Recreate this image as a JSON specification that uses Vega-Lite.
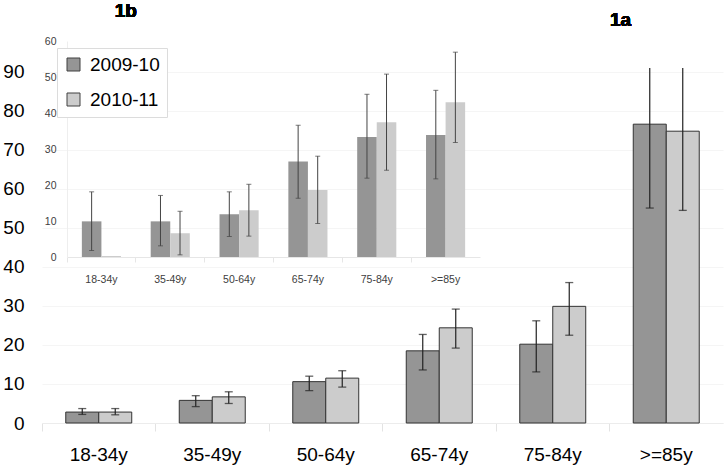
{
  "$schema": "https://vega.github.io/schema/vega-lite/v6.json",
  "width": 681,
  "height": 355,
  "autosize": {"type": "none"},
  "padding": {"left": 42, "top": 68, "right": 4, "bottom": 49},
  "background": "white",
  "config": {
    "view": {"stroke": null},
    "font": "Liberation Sans"
  },
  "datasets": {
    "main": [
      {"age": "18-34y", "period": "2009-10", "value": 2.8, "lo": 2.2, "hi": 3.7},
      {"age": "18-34y", "period": "2010-11", "value": 2.8, "lo": 2.1, "hi": 3.7},
      {"age": "35-49y", "period": "2009-10", "value": 5.8, "lo": 4.2, "hi": 7.0},
      {"age": "35-49y", "period": "2010-11", "value": 6.7, "lo": 5.0, "hi": 8.0},
      {"age": "50-64y", "period": "2009-10", "value": 10.6, "lo": 8.3, "hi": 12.0},
      {"age": "50-64y", "period": "2010-11", "value": 11.5, "lo": 9.2, "hi": 13.4},
      {"age": "65-74y", "period": "2009-10", "value": 18.5, "lo": 13.6, "hi": 22.7},
      {"age": "65-74y", "period": "2010-11", "value": 24.4, "lo": 19.2, "hi": 29.2},
      {"age": "75-84y", "period": "2009-10", "value": 20.2, "lo": 13.1, "hi": 26.2},
      {"age": "75-84y", "period": "2010-11", "value": 29.9, "lo": 22.5, "hi": 36.0},
      {"age": ">=85y", "period": "2009-10", "value": 76.6, "lo": 55.1, "hi": 95},
      {"age": ">=85y", "period": "2010-11", "value": 74.8, "lo": 54.5, "hi": 95}
    ],
    "inset": [
      {"age": "18-34y", "period": "2009-10", "value": 9.9, "lo": 1.8, "hi": 18.1},
      {"age": "18-34y", "period": "2010-11", "value": 0.3, "lo": null, "hi": null},
      {"age": "35-49y", "period": "2009-10", "value": 9.9, "lo": 3.1, "hi": 17.1},
      {"age": "35-49y", "period": "2010-11", "value": 6.6, "lo": 0.6, "hi": 12.7},
      {"age": "50-64y", "period": "2009-10", "value": 11.9, "lo": 5.7, "hi": 18.1},
      {"age": "50-64y", "period": "2010-11", "value": 13.0, "lo": 5.8, "hi": 20.2},
      {"age": "65-74y", "period": "2009-10", "value": 26.5, "lo": 16.3, "hi": 36.6},
      {"age": "65-74y", "period": "2010-11", "value": 18.6, "lo": 9.3, "hi": 28.0},
      {"age": "75-84y", "period": "2009-10", "value": 33.3, "lo": 21.9, "hi": 45.2},
      {"age": "75-84y", "period": "2010-11", "value": 37.4, "lo": 24.1, "hi": 50.8},
      {"age": ">=85y", "period": "2009-10", "value": 33.9, "lo": 21.7, "hi": 46.3},
      {"age": ">=85y", "period": "2010-11", "value": 43.0, "lo": 31.8, "hi": 56.9}
    ]
  },
  "layer": [
    {
      "data": {"name": "main"},
      "encoding": {
        "x": {
          "field": "age", "type": "nominal",
          "sort": ["18-34y", "35-49y", "50-64y", "65-74y", "75-84y", ">=85y"],
          "scale": {"paddingInner": 0, "paddingOuter": 0},
          "axis": {
            "title": null, "orient": "bottom", "labelAngle": 0,
            "labelFontSize": 19, "labelColor": "#000000", "labelPadding": 14,
            "bandPosition": 0,
            "ticks": true, "tickSize": 8, "tickColor": "#e3e3e3",
            "domainColor": "#ececec", "grid": false
          }
        },
        "xOffset": {
          "field": "period", "type": "nominal",
          "scale": {"paddingInner": 0, "paddingOuter": 0.72}
        }
      },
      "layer": [
        {
          "mark": {"type": "bar", "stroke": "#333333", "strokeWidth": 1},
          "encoding": {
            "y": {
              "field": "value", "type": "quantitative",
              "scale": {"domain": [0, 91], "nice": false},
              "axis": {
                "title": null, "orient": "left",
                "values": [0, 10, 20, 30, 40, 50, 60, 70, 80, 90],
                "labelOverlap": false,
                "labelFontSize": 19, "labelColor": "#000000", "labelPadding": 18,
                "ticks": false, "domain": false,
                "grid": true, "gridColor": "#f5f5f5"
              }
            },
            "color": {
              "field": "period", "type": "nominal",
              "scale": {"domain": ["2009-10", "2010-11"], "range": ["#959595", "#cccccc"]},
              "legend": {
                "title": null, "orient": "none", "legendX": 15, "legendY": -20,
                "symbolType": "square", "symbolSize": 169,
                "symbolStrokeColor": "#404040", "symbolStrokeWidth": 1,
                "symbolOpacity": 1,
                "labelFontSize": 19, "labelColor": "#000000", "labelFont": "Liberation Sans",
                "labelOffset": 7, "rowPadding": 15,
                "padding": 7, "strokeColor": "#dcdcdc", "fillColor": "#ffffff"
              }
            }
          }
        },
        {
          "mark": {"type": "rule", "color": "#222222", "strokeWidth": 1.2, "clip": true},
          "encoding": {
            "y": {"field": "lo", "type": "quantitative",
              "axis": {
                "title": null, "orient": "left",
                "values": [0, 10, 20, 30, 40, 50, 60, 70, 80, 90],
                "labelOverlap": false,
                "labelFontSize": 19, "labelColor": "#000000", "labelPadding": 18,
                "ticks": false, "domain": false,
                "grid": true, "gridColor": "#f5f5f5"
              }},
            "y2": {"field": "hi"}
          }
        },
        {
          "mark": {"type": "tick", "color": "#222222", "size": 8, "thickness": 1.3, "clip": true},
          "encoding": {"y": {"field": "lo", "type": "quantitative",
              "axis": {
                "title": null, "orient": "left",
                "values": [0, 10, 20, 30, 40, 50, 60, 70, 80, 90],
                "labelOverlap": false,
                "labelFontSize": 19, "labelColor": "#000000", "labelPadding": 18,
                "ticks": false, "domain": false,
                "grid": true, "gridColor": "#f5f5f5"
              }}}
        },
        {
          "mark": {"type": "tick", "color": "#222222", "size": 8, "thickness": 1.3, "clip": true},
          "encoding": {"y": {"field": "hi", "type": "quantitative",
              "axis": {
                "title": null, "orient": "left",
                "values": [0, 10, 20, 30, 40, 50, 60, 70, 80, 90],
                "labelOverlap": false,
                "labelFontSize": 19, "labelColor": "#000000", "labelPadding": 18,
                "ticks": false, "domain": false,
                "grid": true, "gridColor": "#f5f5f5"
              }}}
        },
        {
          "mark": {"type": "text", "text": "1a", "fontSize": 19, "fontWeight": "bold", "font": "Liberation Sans", "baseline": "middle", "dx": 11},
          "encoding": {
            "x": {"datum": ">=85y"},
            "y": {"datum": 103.3, "type": "quantitative",
              "axis": {
                "title": null, "orient": "left",
                "values": [0, 10, 20, 30, 40, 50, 60, 70, 80, 90],
                "labelOverlap": false,
                "labelFontSize": 19, "labelColor": "#000000", "labelPadding": 18,
                "ticks": false, "domain": false,
                "grid": true, "gridColor": "#f5f5f5"
              }},
            "xOffset": {"value": 0}
          }
        }
      ]
    },
    {
      "data": {"name": "inset"},
      "encoding": {
        "x": {
          "field": "age", "type": "nominal",
          "sort": ["18-34y", "35-49y", "50-64y", "65-74y", "75-84y", ">=85y"],
          "scale": {"range": [25, 438], "paddingInner": 0, "paddingOuter": 0},
          "axis": {
            "title": null, "orient": "bottom", "offset": -166, "labelAngle": 0,
            "labelFontSize": 10.5, "labelColor": "#404040", "labelPadding": 12,
            "bandPosition": 0,
            "ticks": true, "tickSize": 5, "tickColor": "#e6e6e6",
            "domainColor": "#e6e6e6", "grid": false
          }
        },
        "xOffset": {
          "field": "period", "type": "nominal",
          "scale": {"paddingInner": 0, "paddingOuter": 0.76}
        }
      },
      "layer": [
        {
          "mark": {"type": "bar"},
          "encoding": {
            "y": {
              "field": "value", "type": "quantitative",
              "scale": {"domain": [0, 60], "range": [189, -27], "nice": false},
              "axis": {
                "title": null, "orient": "left", "offset": -25,
                "values": [0, 10, 20, 30, 40, 50, 60],
                "labelOverlap": false,
                "labelFontSize": 10.5, "labelColor": "#404040", "labelPadding": 11,
                "ticks": false, "domainColor": "#eeeeee", "grid": false
              }
            },
            "color": {"field": "period", "type": "nominal"}
          }
        },
        {
          "mark": {"type": "rule", "color": "#444444", "strokeWidth": 1},
          "encoding": {
            "y": {"field": "lo", "type": "quantitative"},
            "y2": {"field": "hi"}
          }
        },
        {
          "mark": {"type": "tick", "color": "#444444", "size": 5, "thickness": 1},
          "encoding": {"y": {"field": "lo", "type": "quantitative"}}
        },
        {
          "mark": {"type": "tick", "color": "#444444", "size": 5, "thickness": 1},
          "encoding": {"y": {"field": "hi", "type": "quantitative"}}
        },
        {
          "mark": {"type": "text", "text": "1b", "fontSize": 19, "fontWeight": "bold", "font": "Liberation Sans", "baseline": "middle", "dx": -10},
          "encoding": {
            "x": {"datum": "35-49y"},
            "y": {"datum": 68.2},
            "xOffset": {"value": 0}
          }
        }
      ]
    }
  ],
  "resolve": {
    "scale": {"x": "independent", "y": "independent", "xOffset": "independent"},
    "axis": {"x": "independent", "y": "independent"}
  }
}
